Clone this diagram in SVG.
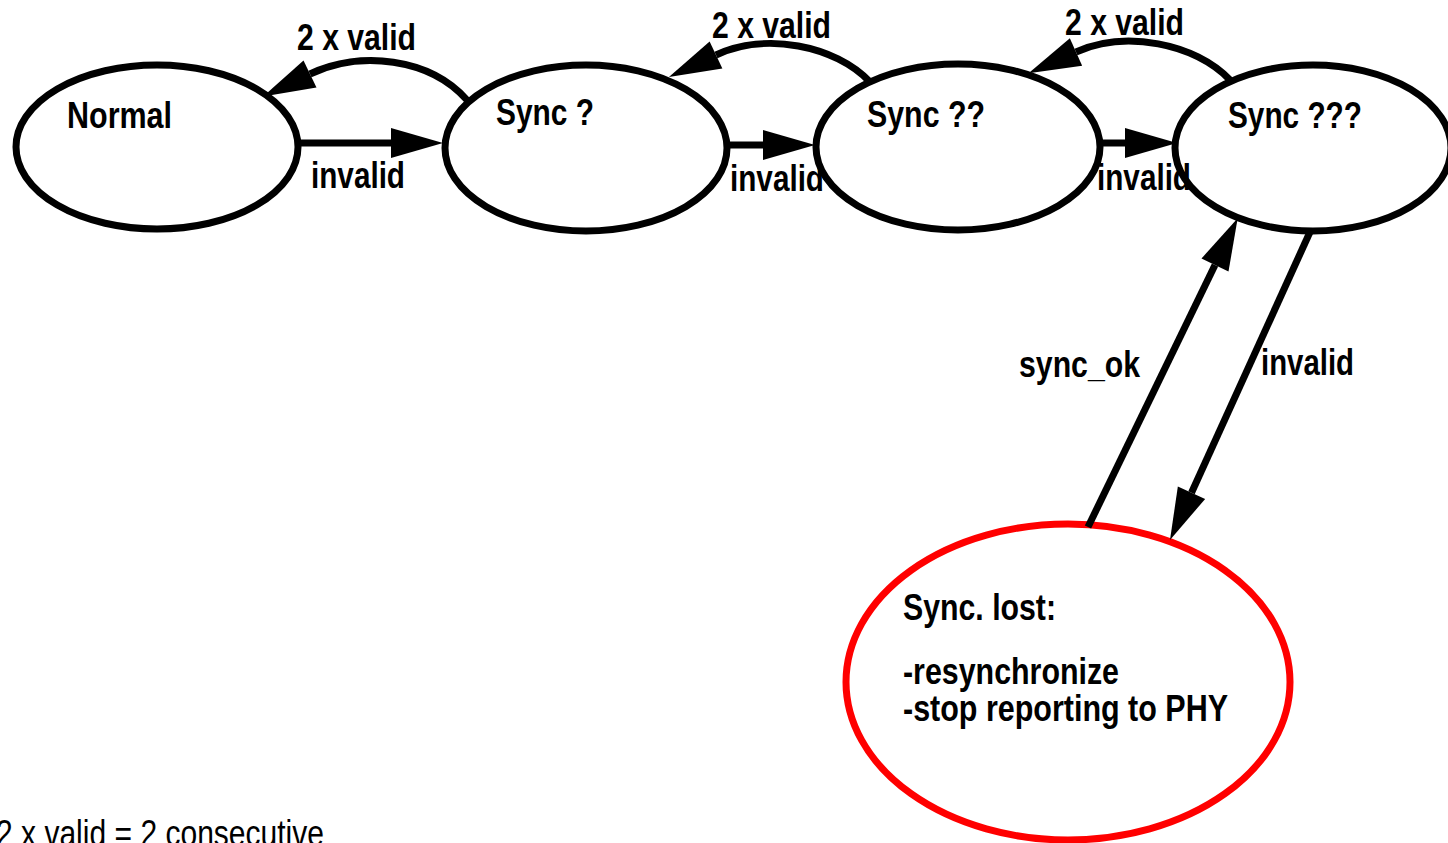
<svg xmlns="http://www.w3.org/2000/svg" width="1448" height="843" viewBox="0 0 1448 843">
  <style>
    .state { fill: #ffffff; stroke: #000000; stroke-width: 7; }
    .lost { fill: #ffffff; stroke: #ff0000; stroke-width: 7; }
    .edge { fill: none; stroke: #000000; stroke-width: 7; marker-end: url(#arrow); }
    .lbl { font-family: "Liberation Sans Narrow", "Liberation Sans", Arial, sans-serif; font-weight: bold; font-size: 36px; fill: #000000; }
    .note { font-family: "Liberation Sans Narrow", "Liberation Sans", Arial, sans-serif; font-size: 36px; fill: #000000; }
  </style>
  <defs>
    <!-- arrowhead starts where the path ends and points along its tangent -->
    <marker id="arrow" markerUnits="userSpaceOnUse" markerWidth="52" markerHeight="30" refX="0" refY="15" orient="auto" overflow="visible">
      <path d="M0,0 L52,15 L0,30 Z" fill="#000000"/>
    </marker>
  </defs>
  <rect width="1448" height="843" fill="#ffffff"/>

  <!-- states -->
  <g id="normal">
    <ellipse class="state" cx="157" cy="147" rx="141" ry="82"/>
    <text class="lbl" x="67" y="128" textLength="105" lengthAdjust="spacingAndGlyphs">Normal</text>
  </g>
  <g id="sync1">
    <ellipse class="state" cx="586" cy="148" rx="141" ry="83"/>
    <text class="lbl" x="496" y="125" textLength="98" lengthAdjust="spacingAndGlyphs">Sync ?</text>
  </g>
  <g id="sync2">
    <ellipse class="state" cx="958" cy="147" rx="142" ry="83"/>
    <text class="lbl" x="867" y="127" textLength="118" lengthAdjust="spacingAndGlyphs">Sync ??</text>
  </g>
  <g id="sync3">
    <ellipse class="state" cx="1313" cy="148" rx="138" ry="83"/>
    <text class="lbl" x="1228" y="128" textLength="134" lengthAdjust="spacingAndGlyphs">Sync ???</text>
  </g>
  <g id="sync-lost">
    <ellipse class="lost" cx="1068" cy="682" rx="222" ry="158"/>
    <text class="lbl" x="903" y="620" textLength="153" lengthAdjust="spacingAndGlyphs">Sync. lost:</text>
    <text class="lbl" x="903" y="684" textLength="216" lengthAdjust="spacingAndGlyphs">-resynchronize</text>
    <text class="lbl" x="903" y="721" textLength="325" lengthAdjust="spacingAndGlyphs">-stop reporting to PHY</text>
  </g>

  <!-- transitions -->
  <g id="connectors">
    <path class="edge" d="M298,143 L391,143"/>
    <path class="edge" d="M727,145 L763,145"/>
    <path class="edge" d="M1100,143 L1125,143"/>
    <path class="edge" d="M467,100 C430,58 360,50 310,74"/>
    <path class="edge" d="M870,82 C835,45 765,32 716,55"/>
    <path class="edge" d="M1230,80 C1195,43 1125,30 1076,52"/>
    <path class="edge" d="M1088,527 L1215,265"/>
    <path class="edge" d="M1310,232 L1191.5,492.7"/>
  </g>

  <!-- transition labels -->
  <g id="labels">
    <text class="lbl" x="297" y="50" textLength="119" lengthAdjust="spacingAndGlyphs">2 x valid</text>
    <text class="lbl" x="712" y="38" textLength="119" lengthAdjust="spacingAndGlyphs">2 x valid</text>
    <text class="lbl" x="1065" y="35" textLength="119" lengthAdjust="spacingAndGlyphs">2 x valid</text>
    <text class="lbl" x="311" y="188" textLength="94" lengthAdjust="spacingAndGlyphs">invalid</text>
    <text class="lbl" x="730" y="191" textLength="94" lengthAdjust="spacingAndGlyphs">invalid</text>
    <text class="lbl" x="1097" y="190" textLength="94" lengthAdjust="spacingAndGlyphs">invalid</text>
    <text class="lbl" x="1019" y="377" textLength="121" lengthAdjust="spacingAndGlyphs">sync_ok</text>
    <text class="lbl" x="1261" y="375" textLength="93" lengthAdjust="spacingAndGlyphs">invalid</text>
  </g>

  <text class="note" x="-4" y="846" textLength="328" lengthAdjust="spacingAndGlyphs">2 x valid = 2 consecutive</text>
</svg>
